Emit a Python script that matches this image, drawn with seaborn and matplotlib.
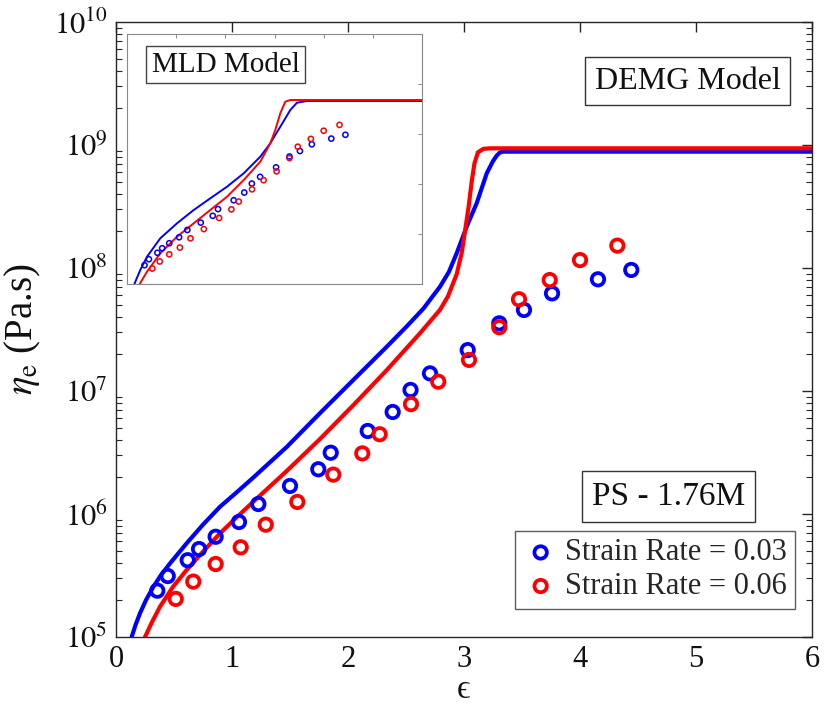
import numpy as np
import pandas as pd
import matplotlib
matplotlib.use("Agg")
import matplotlib.pyplot as plt
import seaborn as sns
from matplotlib.ticker import LogLocator, NullFormatter, FixedLocator, NullLocator

sns.set_theme(style="white")
plt.rcParams["font.family"] = ["Liberation Serif", "DejaVu Serif"]
plt.rcParams["mathtext.fontset"] = "stix"

# ---------------- data ----------------
strain_003 = [0.356, 0.446, 0.618, 0.716, 0.859, 1.060, 1.227, 1.500, 1.744, 1.851,
              2.170, 2.385, 2.539, 2.707, 3.032, 3.304, 3.517, 3.759, 4.155, 4.442]
eta_003 = [2.38e5, 3.13e5, 4.21e5, 5.19e5, 6.53e5, 8.61e5, 1.205e6, 1.69e6, 2.31e6, 3.15e6,
           4.73e6, 6.75e6, 1.02e7, 1.39e7, 2.15e7, 3.55e7, 4.56e7, 6.22e7, 8.09e7, 9.64e7]

strain_006 = [0.515, 0.666, 0.859, 1.075, 1.291, 1.563, 1.873, 2.123, 2.273, 2.543,
              2.778, 3.043, 3.304, 3.474, 3.739, 4.000, 4.322]
eta_006 = [2.04e5, 2.82e5, 3.92e5, 5.36e5, 8.19e5, 1.253e6, 2.09e6, 3.11e6, 4.45e6, 7.82e6,
           1.19e7, 1.79e7, 3.30e7, 5.57e7, 7.98e7, 1.16e8, 1.52e8]

# DEMG model curves (main plot)
demg_x_003 = [0.135, 0.168, 0.207, 0.259, 0.322, 0.388, 0.466, 0.609, 0.75, 0.897, 1.04,
              1.184, 1.472, 1.759, 2.046, 2.334, 2.506, 2.65, 2.793, 2.87, 2.937, 3.023,
              3.109, 3.196, 3.25, 3.282, 3.31, 3.336, 3.40, 6.0]
demg_y_003 = [1.0e5, 1.25e5, 1.56e5, 2.0e5, 2.56e5, 3.19e5, 3.97e5, 5.78e5, 8.2e5, 1.146e6, 1.50e6,
              1.98e6, 3.51e6, 6.61e6, 1.23e7, 2.29e7, 3.35e7, 4.68e7, 7.05e7, 9.3e7, 1.318e8, 2.168e8,
              3.357e8, 5.888e8, 7.4e8, 8.2e8, 8.7e8, 8.83e8, 8.83e8, 8.83e8]

demg_x_006 = [0.25, 0.31, 0.379, 0.49, 0.609, 0.75, 0.897, 1.04, 1.184, 1.472, 1.759, 2.046,
              2.334, 2.621, 2.793, 2.862, 2.937, 2.98, 3.009, 3.04, 3.066, 3.09, 3.12, 3.166, 3.22, 6.0]
demg_y_006 = [1.0e5, 1.32e5, 1.762e5, 2.55e5, 3.508e5, 4.95e5, 6.966e5, 9.4e5, 1.259e6, 2.239e6,
              4.074e6, 7.674e6, 1.479e7, 2.951e7, 4.571e7, 5.89e7, 8.91e7, 1.32e8, 2.0e8, 3.16e8,
              5.0e8, 7.08e8, 8.71e8, 9.3e8, 9.397e8, 9.397e8]

# MLD model curves (inset)
mld_x_003 = [0.15, 0.270, 0.407, 0.677, 1.017, 1.357, 1.694, 2.034, 2.374, 2.711,
             2.914, 3.118, 3.321, 3.457, 3.66, 6.0]
mld_y_003 = [1.0e5, 1.905e5, 3.516e5, 8.204e5, 1.637e6, 3.02e6, 5.176e6, 8.831e6, 1.637e7, 3.516e7,
             6.516e7, 1.40e8, 3.02e8, 4.227e8, 4.571e8, 4.571e8]

mld_x_006 = [0.258, 0.407, 0.677, 1.017, 1.357, 1.694, 2.034, 2.374, 2.711, 2.914,
             3.016, 3.118, 3.219, 3.321, 6.0]
mld_y_006 = [1.0e5, 1.762e5, 4.111e5, 8.831e5, 1.637e6, 3.02e6, 5.572e6, 1.202e7, 2.793e7, 6.516e7,
             1.202e8, 2.594e8, 4.426e8, 4.786e8, 4.786e8]

x_ticks = [0, 1, 2, 3, 4, 5, 6]
y_ticks = [1e5, 1e6, 1e7, 1e8, 1e9, 1e10]
y_tick_labels = [r"$10^{5}$", r"$10^{6}$", r"$10^{7}$", r"$10^{8}$", r"$10^{9}$", r"$10^{10}$"]
labels = ["Strain Rate = 0.03", "Strain Rate = 0.06"]

BLUE = "#0000ff"
RED = "#ff0000"
EDGE = "#262626"

pts003 = pd.DataFrame({"strain": strain_003, "eta": eta_003})
pts006 = pd.DataFrame({"strain": strain_006, "eta": eta_006})
demg003 = pd.DataFrame({"strain": demg_x_003, "eta": demg_y_003})
demg006 = pd.DataFrame({"strain": demg_x_006, "eta": demg_y_006})
mld003 = pd.DataFrame({"strain": mld_x_003, "eta": mld_y_003})
mld006 = pd.DataFrame({"strain": mld_x_006, "eta": mld_y_006})

fig = plt.figure(figsize=(8.27, 7.10), dpi=100)
fig.patch.set_facecolor("white")

ax = fig.add_axes([116 / 827, 1 - 637 / 710, 696 / 827, 615 / 710])
ax.set_yscale("log")

sns.lineplot(data=demg003, x="strain", y="eta", ax=ax, color=BLUE, lw=3.0,
             sort=False, estimator=None, legend=False)
sns.lineplot(data=demg006, x="strain", y="eta", ax=ax, color=RED, lw=3.0,
             sort=False, estimator=None, legend=False)
sns.scatterplot(data=pts003, x="strain", y="eta", ax=ax, marker="o", s=80,
                facecolor="none", edgecolor=BLUE, linewidth=2.7, label=labels[0], zorder=5)
sns.scatterplot(data=pts006, x="strain", y="eta", ax=ax, marker="o", s=80,
                facecolor="none", edgecolor=RED, linewidth=2.7, label=labels[1], zorder=5)

ax.set_xlim(0, 6)
ax.set_ylim(1e5, 1e10)
ax.xaxis.set_major_locator(FixedLocator(x_ticks))
ax.set_xticklabels([str(t) for t in x_ticks])
ax.yaxis.set_major_locator(FixedLocator(y_ticks))
ax.set_yticklabels(y_tick_labels)
ax.yaxis.set_minor_locator(LogLocator(base=10, subs=np.arange(2, 10), numticks=20))
ax.yaxis.set_minor_formatter(NullFormatter())
ax.tick_params(axis="both", which="major", direction="in", length=7, width=1,
               top=True, right=True, labelsize=22, colors=EDGE, labelcolor="#111111", pad=6)
ax.tick_params(axis="y", which="minor", direction="in", length=4, width=0.8,
               left=True, right=True, colors=EDGE)
for sp in ax.spines.values():
    sp.set_color(EDGE)
    sp.set_linewidth(1.0)
ax.set_xlabel("\u03f5", fontsize=24, color="#111111", labelpad=0)
ax.set_ylabel(r"$\eta_{\mathrm{e}}$ (Pa.s)", fontsize=28, color="#111111", labelpad=8)
ax.grid(False)

leg = ax.legend(loc="lower right", bbox_to_anchor=(0.975, 0.046), borderaxespad=0,
                fontsize=22, frameon=True, fancybox=False, handletextpad=0.2,
                borderpad=0.25, labelspacing=0.15, handlelength=1.2)
leg.get_frame().set_edgecolor("#333333")
leg.get_frame().set_linewidth(1.0)

box = dict(boxstyle="square,pad=0.3", fc="white", ec="#333333", lw=1.0)
ax.text(0.8217, 0.9037, "DEMG Model", transform=ax.transAxes, ha="center", va="center",
        fontsize=23, color="#111111", bbox=box)
ax.text(0.7941, 0.2281, "PS - 1.76M", transform=ax.transAxes, ha="center", va="center",
        fontsize=24, color="#111111", bbox=dict(boxstyle="square,pad=0.3", fc="white",
                                                ec="#333333", lw=1.0))

# ---------------- inset ----------------
axi = fig.add_axes([127 / 827, 1 - 284 / 710, 295 / 827, 250 / 710])
axi.set_yscale("log")
sns.lineplot(data=mld003, x="strain", y="eta", ax=axi, color=BLUE, lw=1.4,
             sort=False, estimator=None, legend=False)
sns.lineplot(data=mld006, x="strain", y="eta", ax=axi, color=RED, lw=1.4,
             sort=False, estimator=None, legend=False)
sns.scatterplot(data=pts003, x="strain", y="eta", ax=axi, marker="o", s=14,
                facecolor="none", edgecolor=BLUE, linewidth=1.1, legend=False, zorder=5)
sns.scatterplot(data=pts006, x="strain", y="eta", ax=axi, marker="o", s=14,
                facecolor="none", edgecolor=RED, linewidth=1.1, legend=False, zorder=5)
axi.set_xlim(0, 6)
axi.set_ylim(1e5, 1e10)
axi.xaxis.set_major_locator(FixedLocator(x_ticks))
axi.yaxis.set_major_locator(FixedLocator(y_ticks))
axi.yaxis.set_minor_locator(NullLocator())
axi.set_xticklabels([])
axi.set_yticklabels([])
axi.set_xlabel("")
axi.set_ylabel("")
axi.tick_params(axis="both", which="major", direction="in", length=3, width=0.6,
                top=True, right=True, colors="#777777")
for sp in axi.spines.values():
    sp.set_color("#888888")
    sp.set_linewidth(0.8)
axi.grid(False)
axi.text(0.3346, 0.878, "MLD Model", transform=axi.transAxes, ha="center", va="center",
         fontsize=21, color="#111111",
         bbox=dict(boxstyle="square,pad=0.2", fc="white", ec="#444444", lw=1.0))

fig.savefig("out.png", dpi=100, facecolor="white")
